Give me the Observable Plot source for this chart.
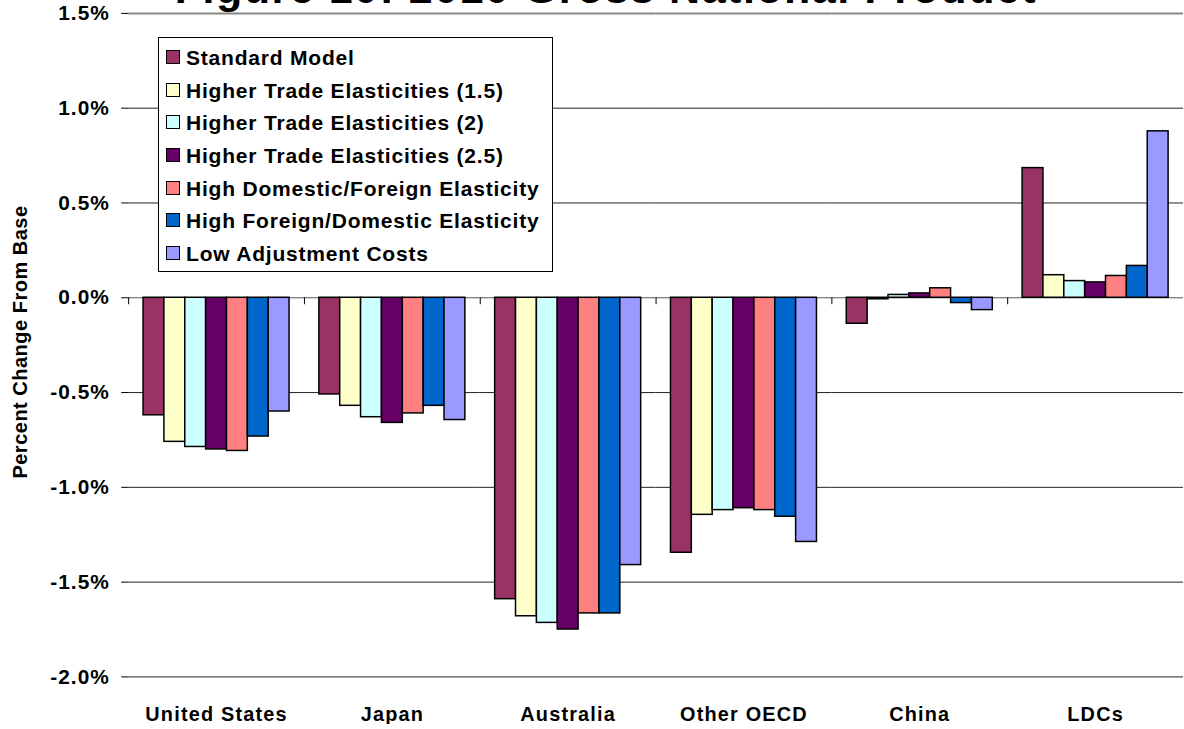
<!DOCTYPE html>
<html>
<head>
<meta charset="utf-8">
<script src="https://cdn.jsdelivr.net/npm/d3@7"></script>
<script src="https://cdn.jsdelivr.net/npm/@observablehq/plot@0.6"></script>
<style>
  html, body { margin: 0; padding: 0; background: #fff; overflow: hidden; }
  #wrap { position: relative; width: 1184px; height: 729px; overflow: hidden; font-family: "Liberation Sans", Arial, sans-serif; }
  #chart { position: absolute; left: 0; top: 0; }
  #title { position: absolute; left: 0; width: 1212px; top: -33px; text-align: center; font-size: 43px; line-height: 43px; font-weight: bold; letter-spacing: 1.5px; white-space: nowrap; color: #000; }
  #ytitle { position: absolute; left: 20px; top: 342px; transform: translate(-50%, -50%) rotate(-90deg); font-size: 20px; font-weight: bold; letter-spacing: 0.5px; white-space: nowrap; color: #000; }
  #legend { position: absolute; left: 158px; top: 37px; width: 393px; height: 229px; border: 1px solid #000; background: #fff; padding-top: 4px; box-sizing: content-box; }
  .row { position: relative; height: 32.7px; line-height: 32.7px; font-size: 21px; font-weight: bold; letter-spacing: 0.8px; white-space: nowrap; color: #000; }
  .sw { position: absolute; left: 7px; top: 8px; width: 12px; height: 12px; border: 1.5px solid #000; }
  .lab { position: absolute; left: 27px; top: 0; }
  svg g[aria-label="fx-axis tick label"] text { letter-spacing: 1.2px; }
  svg g[aria-label="y-axis tick label"] text { letter-spacing: 1px; }
</style>
</head>
<body>
<div id="wrap">
  <div id="chart"></div>
  <div id="title">Figure 10: 2010 Gross National Product</div>
  <div id="ytitle">Percent Change From Base</div>
  <div id="legend"></div>
</div>
<script>
// Categories (regions)
const categories = ["United States", "Japan", "Australia", "Other OECD", "China", "LDCs"];

// Scenario names
const series = [
  "Standard Model",
  "Higher Trade Elasticities (1.5)",
  "Higher Trade Elasticities (2)",
  "Higher Trade Elasticities (2.5)",
  "High Domestic/Foreign Elasticity",
  "High Foreign/Domestic Elasticity",
  "Low Adjustment Costs"
];

const colors = ["#993366", "#FFFFCC", "#CCFFFF", "#660066", "#FF8080", "#0066CC", "#9999FF"];

// Percent change from base, per scenario, in category order
const standardModel   = [-0.62, -0.51, -1.59, -1.345, -0.137, 0.684];
const trade15         = [-0.76, -0.57, -1.68, -1.145, -0.008, 0.119];
const trade2          = [-0.787, -0.63, -1.715, -1.12, 0.015, 0.088];
const trade25         = [-0.80, -0.66, -1.75, -1.11, 0.023, 0.081];
const domForeign      = [-0.808, -0.61, -1.665, -1.12, 0.05, 0.115];
const foreignDom      = [-0.732, -0.57, -1.665, -1.155, -0.028, 0.168];
const lowAdjustment   = [-0.60, -0.645, -1.41, -1.288, -0.065, 0.878];

const seriesValues = [standardModel, trade15, trade2, trade25, domForeign, foreignDom, lowAdjustment];

const yTicks = [-2, -1.5, -1, -0.5, 0, 0.5, 1, 1.5];

const data = categories.flatMap((c, i) =>
  series.map((s, j) => ({category: c, series: s, value: seriesValues[j][i]}))
);

// small category ticks hanging from the zero line at the left edge of each facet
const boundaryTicks = (index, scales, values, dimensions) => {
  const g = d3.create("svg:g");
  const x = dimensions.marginLeft + 0.5;
  const y0 = scales.y(0);
  g.append("line")
    .attr("x1", x).attr("x2", x)
    .attr("y1", y0).attr("y2", y0 + 7)
    .attr("stroke", "#000").attr("stroke-width", 1);
  return g.node();
};

const chart = Plot.plot({
  width: 1192,
  height: 729,
  marginLeft: 127,
  marginRight: 0,
  marginTop: 13,
  marginBottom: 48,
  style: {fontFamily: "'Liberation Sans', Arial, sans-serif", background: "transparent", color: "#000"},
  fx: {domain: categories, padding: 0, label: null},
  x: {domain: series, paddingInner: 0, paddingOuter: 0.714, axis: null},
  y: {domain: [-2, 1.5], label: null},
  color: {domain: series, range: colors},
  marks: [
    Plot.ruleY(yTicks.filter(t => t !== 1.5 && t !== 0), {stroke: "#222", strokeWidth: 1}),
    Plot.ruleY([0], {stroke: "#555", strokeWidth: 1}),
    Plot.ruleY([1.5], {stroke: "#888", strokeWidth: 2}),
    Plot.barY(data, {fx: "category", x: "series", y: "value", fill: "series", stroke: "#000", strokeWidth: 1.5}),
    boundaryTicks,
    Plot.axisY({ticks: yTicks, tickFormat: d => d.toFixed(1) + "%", tickSize: 7, tickPadding: 12, fontSize: 21, fontWeight: "bold", line: true, label: null}),
    Plot.axisFx({anchor: "bottom", tickSize: 0, tickPadding: 30, fontSize: 20, fontWeight: "bold", label: null})
  ]
});
document.getElementById("chart").appendChild(chart);

// Legend
const legend = document.getElementById("legend");
series.forEach((s, i) => {
  const row = document.createElement("div");
  row.className = "row";
  const sw = document.createElement("div");
  sw.className = "sw";
  sw.style.background = colors[i];
  const lab = document.createElement("div");
  lab.className = "lab";
  lab.textContent = s;
  row.appendChild(sw);
  row.appendChild(lab);
  legend.appendChild(row);
});
</script>
</body>
</html>
